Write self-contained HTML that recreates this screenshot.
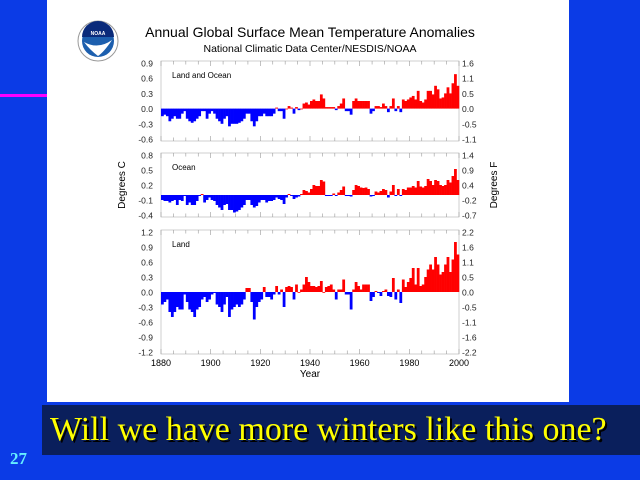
<!DOCTYPE html>
<html><head><meta charset="utf-8"><style>
body{margin:0;width:640px;height:480px;background:#0b3be6;position:relative;overflow:hidden;font-family:"Liberation Sans",sans-serif}
#panel{position:absolute;left:47px;top:0;width:522px;height:402px;background:#fff}
#mag{position:absolute;left:0;top:94px;width:47px;height:3px;background:#f0f}
#cap{position:absolute;left:42px;top:405px;width:598px;height:50px;background:#0a1f5c;color:#ff0;font-family:"Liberation Serif",serif;font-size:34px;line-height:50px;text-shadow:2px 2px 0 #000;padding-left:8px;box-sizing:border-box;white-space:nowrap}
#num{position:absolute;left:10px;top:449px;color:#6ef;font-family:"Liberation Serif",serif;font-weight:bold;font-size:17px}
</style></head><body>
<div id="panel"></div>
<div id="mag"></div>
<div id="cap">Will we have more winters like this one?</div>
<div id="num">27</div>
<svg id="chart" width="640" height="480" style="position:absolute;left:0;top:0">
<g>
<circle cx="98" cy="41" r="20" fill="#fff" stroke="#999" stroke-width="1"/>
<circle cx="98" cy="41" r="16" fill="#1d5fae"/>
<path d="M82,37 A16,16 0 0 1 114,37 Z" fill="#0a2a7a"/>
<path d="M84,42 Q98,50 112,40 Q104,52 98,56 Q90,50 84,42Z" fill="#fff"/>
<text x="98" y="35" font-size="5" fill="#fff" text-anchor="middle" font-weight="bold">NOAA</text>
</g>
<text x="310" y="37" font-size="14" text-anchor="middle" fill="#000">Annual Global Surface Mean Temperature Anomalies</text>
<text x="310" y="52" font-size="10.5" text-anchor="middle" fill="#000">National Climatic Data Center/NESDIS/NOAA</text>
<text transform="translate(125,185) rotate(-90)" font-size="10" text-anchor="middle">Degrees C</text>
<text transform="translate(497,185) rotate(-90)" font-size="10" text-anchor="middle">Degrees F</text>
<text x="310" y="377" font-size="10" text-anchor="middle">Year</text>
</svg>
<script>
const startYear = 1880;
const xTickYears = [1880,1900,1920,1940,1960,1980,2000];
const globalVals = [-0.15,-0.12,-0.15,-0.25,-0.2,-0.15,-0.2,-0.2,-0.1,
-0.05,-0.2,-0.25,-0.28,-0.25,-0.2,-0.15,-0.05,-0.05,-0.2,
-0.1,
-0.05,-0.1,-0.2,-0.25,-0.3,-0.2,-0.15,-0.35,-0.3,-0.3,-0.3,-0.28,-0.25,-0.2,
-0.1,-0.1,-0.25,-0.35,-0.25,-0.15,
-0.15,-0.1,-0.15,-0.15,-0.15,-0.1,
0.02,-0.05,-0.05,-0.2,
0.0,
0.05,0.02,-0.1,0.03,
-0.03,0.0,0.1,0.12,0.08,
0.15,0.18,0.15,0.15,0.28,0.2,
0.03,0.03,0.03,0.03,-0.03,
0.05,0.1,0.2,-0.05,-0.05,-0.12,
0.15,0.2,0.15,0.15,0.15,0.15,0.15,
-0.1,-0.05,0.05,0.05,0.03,0.1,0.05,-0.07,0.05,0.2,-0.05,0.05,-0.07,
0.18,0.15,0.18,0.22,0.25,0.18,0.35,0.15,0.12,0.18,0.35,0.35,0.28,0.45,0.38,0.2,0.22,0.3,0.42,0.3,0.5,0.68,0.45];
const oceanVals = [-0.1,-0.12,-0.12,-0.15,-0.12,-0.1,-0.2,-0.1,-0.12,
-0.02,-0.2,-0.15,-0.2,-0.2,-0.12,-0.02,0.02,-0.15,-0.1,-0.05,
-0.1,-0.12,-0.2,-0.25,-0.3,-0.2,-0.18,-0.3,-0.3,-0.35,-0.33,-0.3,-0.25,-0.2,
-0.1,-0.1,-0.2,-0.25,-0.22,-0.15,
-0.1,-0.1,-0.15,-0.12,-0.12,-0.1,-0.05,-0.08,-0.1,-0.18,
-0.05,0.02,-0.02,-0.08,-0.05,-0.03,0.02,0.1,0.08,0.05,
0.12,0.2,0.18,0.18,0.3,0.27,-0.02,-0.02,-0.02,0.03,
-0.02,0.05,0.1,0.17,-0.02,-0.02,-0.03,0.1,0.2,0.18,
0.15,0.14,0.15,0.12,-0.03,-0.02,0.07,0.05,0.08,0.12,
0.1,-0.05,0.07,0.2,-0.02,0.12,-0.02,0.12,0.1,0.15,
0.15,0.18,0.15,0.28,0.17,0.15,0.18,0.32,0.28,0.2,
0.3,0.28,0.2,0.18,0.2,0.3,0.25,0.38,0.52,0.3];
const landVals = [-0.25,-0.2,-0.15,-0.4,-0.5,-0.4,-0.3,-0.35,-0.35,-0.05,
-0.2,-0.35,-0.4,-0.5,-0.35,-0.3,-0.15,-0.1,-0.2,-0.15,
-0.05,-0.02,-0.25,-0.3,-0.4,-0.25,-0.1,-0.5,-0.35,-0.3,
-0.25,-0.3,-0.25,-0.15,0.08,0.08,-0.2,-0.55,-0.3,-0.2,
-0.15,0.1,-0.1,-0.1,-0.15,-0.05,0.12,-0.05,0.05,-0.3,
0.1,0.12,0.1,-0.15,0.15,0.0,0.05,0.15,0.3,0.2,
0.12,0.12,0.1,0.12,0.22,0.0,0.1,0.12,0.15,0.05,
-0.15,0.05,0.05,0.25,-0.05,-0.05,-0.35,0.05,0.2,0.12,
0.05,0.15,0.15,0.15,-0.18,-0.1,0.02,-0.02,-0.08,0.02,
0.05,-0.08,-0.1,0.28,-0.15,0.05,-0.22,0.25,0.1,0.2,
0.28,0.48,0.15,0.48,0.12,0.15,0.3,0.45,0.55,0.45,
0.7,0.55,0.35,0.4,0.55,0.7,0.4,0.65,1.0,0.75];
const globalTicksC = ["0.9","0.6","0.3","0.0","-0.3","-0.6"];
const globalTicksF = ["1.6","1.1","0.5","0.0","-0.5","-1.1"];
const oceanTicksC = ["0.8","0.5","0.2","-0.1","-0.4"];
const oceanTicksF = ["1.4","0.9","0.4","-0.2","-0.7"];
const landTicksC = ["1.2","0.9","0.6","0.3","0.0","-0.3","-0.6","-0.9","-1.2"];
const landTicksF = ["2.2","1.6","1.1","0.5","0.0","-0.5","-1.1","-1.6","-2.2"];

const NS="http://www.w3.org/2000/svg";
const svg=document.getElementById('chart');
const X0=161,X1=459;
function xs(y){return X0+(y-1880)*(X1-X0)/120;}
function mk(t,a,p){const e=document.createElementNS(NS,t);for(const k in a)e.setAttribute(k,a[k]);(p||svg).appendChild(e);return e;}
function panel(name,label,vals,ticksC,ticksF,vmax,vmin,top,bot,showX){
  const g=mk('g',{});
  
  
  const ys=v=>top+(vmax-v)*(bot-top)/(vmax-vmin);
  mk('rect',{x:X0,y:top-2,width:X1-X0,height:bot-top+4,fill:'none',stroke:'#bbb','stroke-width':0.7},g);
  const bw=(X1-X0)/120;
  vals.forEach((v,i)=>{
    const x=xs(startYear+i),y0=ys(0),y1=ys(v);
    const r=mk('rect',{x:x,y:Math.min(y0,y1),width:bw+0.3,height:Math.max(0.8,Math.abs(y1-y0)),fill:v>=0?'#ff0000':'#0000ff'},g);
    
    
  });
  ticksC.forEach((t,i)=>{
    const y=top+i*(bot-top)/(ticksC.length-1);
    const tx=mk('text',{x:153,y:y+3.5,'font-size':8.5,'text-anchor':'end',fill:'#222'},g);tx.textContent=t;
    
    
    const tf=mk('text',{x:462,y:y+3.5,'font-size':8.5,fill:'#222'},g);tf.textContent=ticksF[i];
    
    
  });
  for(let yr=1880;yr<=2000;yr+=5){
    mk('line',{x1:xs(yr),x2:xs(yr),y1:top-2,y2:top+(yr%20?1.5:3),stroke:'#999','stroke-width':0.6},g);
    mk('line',{x1:xs(yr),x2:xs(yr),y1:bot+2,y2:bot-(yr%20?1.5:3),stroke:'#999','stroke-width':0.6},g);
  }
  const lt=mk('text',{x:172,y:top+15,'font-size':8,fill:'#000'},g);lt.textContent=label;
  
  
  if(showX){xTickYears.forEach(yr=>{const t=mk('text',{x:xs(yr),y:bot+14,'font-size':9,'text-anchor':'middle'},g);t.textContent=yr;
    
    });}
}
panel('global','Land and Ocean',globalVals,globalTicksC,globalTicksF,0.9,-0.6,63,139,false);
panel('ocean','Ocean',oceanVals,oceanTicksC,oceanTicksF,0.8,-0.4,155,215,false);
panel('land','Land',landVals,landTicksC,landTicksF,1.2,-1.2,232,352,true);
</script>
</body></html>
